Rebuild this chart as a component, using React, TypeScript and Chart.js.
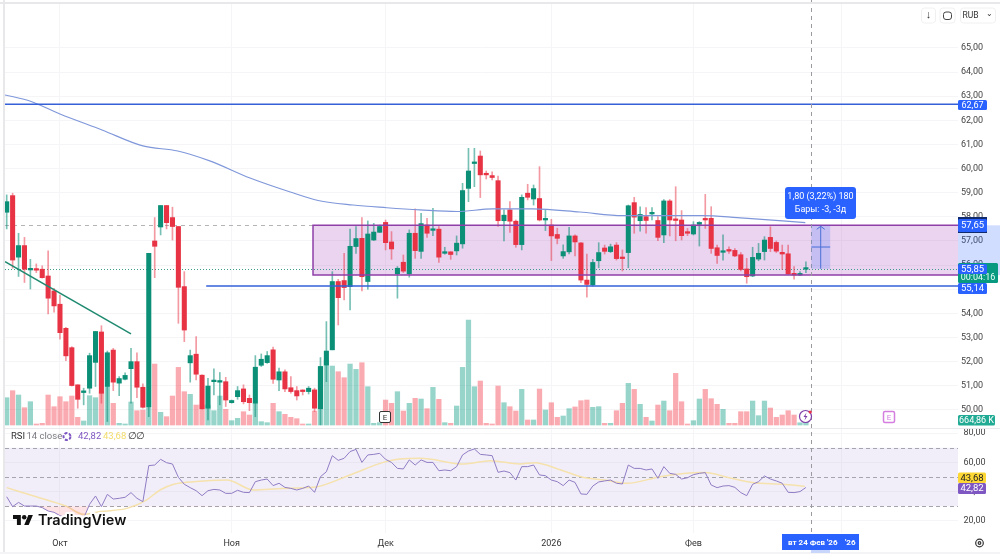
import React, { useEffect, useRef } from "react";
import { Chart, registerables } from "chart.js";

Chart.register(...registerables);

const opens = [58.19,58.88,56.33,56.81,55.80,55.83,55.83,55.55,54.93,54.38,
53.38,52.58,51.04,50.72,50.90,51.97,53.23,50.97,52.48,51.11,
51.27,51.71,52.00,50.94,50.11,57.00,57.58,58.47,57.97,57.60,
55.11,51.95,52.31,51.44,50.07,51.17,51.15,51.17,50.30,50.55,
50.87,50.48,50.28,51.85,51.96,52.49,51.24,51.58,50.92,50.80,
50.80,50.76,50.83,50.05,51.86,52.49,55.32,55.36,55.11,56.77,
57.11,55.32,57.04,57.36,57.77,56.96,55.64,56.12,55.64,57.32,
56.57,57.66,57.44,57.49,56.49,56.55,56.59,56.88,59.18,60.21,
60.52,59.76,59.71,59.50,57.84,58.29,57.82,56.85,58.98,58.74,
58.76,57.87,57.66,57.27,56.38,56.55,57.21,56.92,55.38,55.18,
56.18,56.71,56.56,56.83,56.31,56.52,58.59,57.84,58.01,58.12,
57.85,57.25,58.66,57.90,57.87,57.37,57.29,57.69,57.90,57.94,
56.72,56.53,56.63,56.61,56.43,55.84,55.55,56.25,56.56,57.15,
56.94,56.53,56.47,55.66,55.59,55.83];

const closes = [58.63,56.21,56.81,55.83,55.83,55.79,55.48,54.63,54.31,53.20,
52.24,51.01,50.44,50.79,52.25,53.25,50.69,52.37,51.15,51.30,
51.43,52.00,50.94,50.11,56.49,56.78,58.47,57.76,57.60,55.08,
53.31,52.25,51.48,50.05,50.99,51.22,51.17,50.41,50.39,50.80,
50.34,50.30,51.77,52.10,52.25,51.27,51.58,50.87,50.76,50.58,
50.76,50.90,50.07,51.80,52.44,55.32,54.65,55.07,56.78,57.10,
55.52,57.29,57.37,57.60,56.93,56.67,55.87,55.75,57.32,56.60,
57.72,57.32,57.49,56.33,56.55,56.44,56.91,59.09,59.90,60.26,
59.74,59.74,59.63,57.84,58.07,57.82,56.85,58.81,58.81,59.17,
57.87,57.91,57.21,57.11,56.56,57.21,56.96,55.38,55.20,56.11,
56.52,56.57,56.76,56.27,56.27,58.46,57.99,58.10,57.85,58.17,
57.15,58.66,57.87,57.85,57.22,57.32,57.66,57.77,57.87,56.69,
56.40,56.58,56.58,56.38,55.82,55.52,56.32,56.49,57.04,56.69,
56.58,56.46,55.63,55.59,55.62,55.87];

const highs = [58.91,58.98,57.32,57.15,56.24,56.05,55.97,56.59,55.04,54.76,
53.42,52.62,51.04,50.90,52.35,53.25,53.49,52.44,52.55,51.38,
51.54,52.55,52.37,51.08,56.49,57.97,58.47,58.47,58.40,57.60,
55.73,52.48,53.04,51.45,51.31,51.70,51.55,51.35,50.41,50.97,
51.04,50.62,52.25,52.32,52.42,52.60,51.73,51.66,51.38,50.97,
50.83,50.97,50.90,52.17,53.66,55.73,55.41,56.49,57.49,57.60,
57.97,57.83,57.73,57.66,57.87,57.39,55.94,56.42,57.46,58.33,
58.15,57.94,58.35,57.60,56.74,56.56,57.21,59.39,60.84,60.84,
60.73,59.90,59.87,59.69,58.29,58.63,57.87,58.91,59.35,59.32,
60.08,58.29,57.90,57.53,56.84,57.57,57.25,56.93,56.46,56.24,
56.93,56.83,56.87,56.93,56.63,58.49,58.81,58.42,58.38,58.38,
58.01,58.72,58.72,59.25,58.26,57.52,57.80,57.80,58.93,58.42,
56.83,57.25,56.76,56.69,56.52,56.28,56.74,56.90,57.18,57.59,
57.00,56.83,56.83,55.94,55.73,56.14];

const lows = [57.50,55.87,55.53,55.28,55.01,55.69,55.46,53.98,54.05,52.93,
52.04,50.99,50.07,50.21,50.69,50.97,50.28,49.52,50.80,50.59,
51.24,50.28,50.51,50.07,49.72,55.48,57.25,57.50,57.04,53.59,
52.83,51.15,51.24,50.03,49.59,50.62,50.21,50.14,50.28,50.44,
50.25,49.97,49.72,51.80,51.93,51.10,50.80,50.76,50.69,50.41,
50.62,50.66,49.93,49.38,51.17,52.49,53.52,54.56,54.14,56.49,
54.93,55.00,57.02,57.35,56.63,56.24,54.63,55.69,55.50,56.28,
56.28,57.15,57.22,56.11,56.45,56.24,56.42,56.70,58.63,59.25,
58.80,59.57,59.53,57.60,57.00,57.35,56.74,56.63,58.70,58.49,
57.83,57.43,56.19,56.88,56.28,56.46,56.38,55.27,54.67,55.13,
55.89,56.46,56.52,56.21,55.76,55.89,57.32,57.41,57.32,57.87,
57.01,56.93,57.21,57.01,57.04,57.22,57.25,56.79,57.52,56.49,
56.07,56.21,56.49,56.35,55.76,55.25,55.52,56.18,56.21,56.56,
56.52,55.82,55.62,55.42,55.56,55.69];

// volume, thousands
const volumes = [3633,4563,3987,2304,3101,133,222,3987,2437,3766,
3101,3854,1019,532,3898,3633,4430,5006,2880,222,
133,3057,1905,1994,2215,8107,1683,1108,3854,7664,
4430,4076,2658,2658,2658,1905,3854,2082,576,886,
1772,1329,2880,443,310,2880,1772,1418,1019,842,
133,133,1861,7753,8639,7841,7088,6291,8107,7398,
8284,5095,222,310,3323,2880,4430,1861,2880,3544,
3455,2171,5006,3411,310,222,2525,7664,13955,5095,
5848,222,133,5183,2968,2437,1861,4740,665,665,
4784,1994,2968,1019,1196,2171,2400,3234,3323,2348,
2437,222,222,1905,2880,5538,4740,2747,1019,532,
2658,3190,1905,6867,3101,133,576,3455,4740,3500,
2747,2082,222,222,1772,1772,3190,1240,3190,2259,
1019,1329,1905,1329,300,665];

const rsi = [36.5,29.7,32.6,30.1,30.1,30.1,29.0,26.7,25.8,23.5,
22.1,20.5,20.5,21.7,31.3,37.0,29.7,38.1,34.9,35.4,
36.1,39.3,35.4,33.1,57.8,58.2,62.1,59.8,58.9,49.8,
45.0,42.7,40.6,37.2,40.6,41.5,41.1,38.8,38.8,40.9,
39.5,39.3,46.8,47.9,48.6,44.1,45.7,42.9,42.2,41.1,
42.2,43.8,39.5,50.2,53.6,64.6,61.4,62.8,67.4,68.9,
60.0,65.1,65.5,66.2,62.1,60.0,55.9,55.5,61.7,58.2,
61.7,60.0,60.0,54.3,54.8,54.3,57.1,65.1,67.8,69.2,
65.5,65.1,64.6,53.2,54.1,53.0,47.9,57.1,57.1,58.2,
51.4,50.9,47.9,46.8,44.1,47.9,46.3,38.4,38.1,43.8,
46.6,47.3,47.9,45.7,45.2,58.2,55.9,55.9,54.8,55.5,
49.1,57.1,52.5,51.8,48.6,49.5,51.6,52.5,53.0,44.5,
42.7,43.8,44.1,42.9,39.3,37.2,45.0,46.8,50.7,48.6,
47.3,45.7,39.5,39.3,40.0,42.82];

const rsiMaBars = [0,5,10,13,15.8,20.3,23.6,25.9,28.2,31.5,37.2,41.7,46.7,51.8,58,63.6,66.4,69.8,77.3,81.7,86.7,89.2,93.6,97.3,101,104.8,110.4,113.6,118,121.7,126,131,134.8];
const rsiMaValues = [42.7,36.5,30.1,24.4,26.3,28.5,34.2,41.1,45.0,46.8,47.9,41.1,42.2,42.9,51.4,60.0,62.3,62.8,58.9,61.2,58.9,59.8,54.8,49.8,47.9,45.7,50.2,52.0,53.0,49.8,46.3,45.0,43.68];

const smaBars = [-0.3,3.9,9,16.1,23,28.9,34.3,41.1,47.9,52.6,58.5,64.2,69.8,76,82.1,88.9,96.8,104.1,117.6,123.4,134.9];
const smaValues = [63.05,62.80,62.26,61.60,60.94,60.73,60.32,59.61,59.03,58.68,58.49,58.38,58.29,58.22,58.33,58.33,58.20,58.05,58.05,57.97,57.76];

const trendBars = [-0.28, 21];
const trendValues = [56.14, 53.15];
const upperLevelBars = [-1, 162];
const upperLevel = 62.67;
const lowerLevelBars = [33.7, 162];
const lowerLevel = 55.14;
const boxTop = 57.65;
const boxBottom = 55.59;
const boxStartBar = 51.74;
const lastPrice = 55.85;
const measureBars = [135.9, 139.1];
const measureTop = 57.65;
const measureBottom = 55.85;

const priceTicks = [50,51,52,53,54,55,56,57,58,59,60,61,62,63,64,65];
const rsiTicks = [20,40,60,80];
const monthBars = [9,38,64,92,116,141];
const monthLabels = ["Окт","Ноя","Дек","2026","Фев",""];

const FONT = "Roboto, 'Noto Sans', sans-serif";
const BLUE = "#2962ff";

function tag(ctx: any, x: number, y: number, w: number, h: number, bg: string, fg: string, text: string, size = 9.5) {
  ctx.fillStyle = bg;
  ctx.beginPath();
  ctx.roundRect(x, y, w, h, 1.5);
  ctx.fill();
  ctx.fillStyle = fg;
  ctx.font = `${size}px ${FONT}`;
  ctx.textAlign = "center";
  ctx.textBaseline = "middle";
  ctx.fillText(text, x + w / 2, y + h / 2 + 0.5);
}

function text(ctx: any, s: string, x: number, y: number, color: string, font: string, align = "left") {
  ctx.fillStyle = color;
  ctx.font = font;
  ctx.textAlign = align;
  ctx.textBaseline = "middle";
  ctx.fillText(s, x, y);
}

const noPadding = (s: any) => {
  s.paddingTop = 0;
  s.paddingBottom = 0;
  s.paddingLeft = 0;
  s.paddingRight = 0;
};

const backdrop = {
  id: "backdrop",
  beforeDatasetsDraw(chart: any) {
    const { ctx, chartArea: a, scales } = chart;
    const yR = scales.yRsi;
    const y = scales.y;
    const x = scales.x;
    ctx.save();
    // RSI band
    ctx.fillStyle = "rgba(126,87,194,0.1)";
    ctx.fillRect(a.left, yR.getPixelForValue(70), a.right - a.left, yR.getPixelForValue(30) - yR.getPixelForValue(70));
    ctx.strokeStyle = "#a5a5ad";
    ctx.lineWidth = 1;
    ctx.setLineDash([4, 3]);
    for (const v of [70, 50, 30]) {
      const p = Math.round(yR.getPixelForValue(v)) + 0.5;
      ctx.beginPath();
      ctx.moveTo(a.left, p);
      ctx.lineTo(a.right, p);
      ctx.stroke();
    }
    ctx.setLineDash([]);
    // pane separator
    ctx.strokeStyle = "#e9e9ee";
    ctx.beginPath();
    ctx.moveTo(a.left, 428.5);
    ctx.lineTo(1000, 428.5);
    ctx.stroke();
    // box fill
    const bx = x.getPixelForValue(boxStartBar);
    ctx.fillStyle = "rgba(156,39,176,0.2)";
    ctx.fillRect(bx, y.getPixelForValue(boxTop), a.right - bx, y.getPixelForValue(boxBottom) - y.getPixelForValue(boxTop));
    // dashed high line
    ctx.strokeStyle = "#b4b4b8";
    ctx.setLineDash([4, 4]);
    ctx.beginPath();
    ctx.moveTo(a.left, Math.round(y.getPixelForValue(boxTop)) + 0.5);
    ctx.lineTo(a.right, Math.round(y.getPixelForValue(boxTop)) + 0.5);
    ctx.stroke();
    // last price dotted
    ctx.strokeStyle = "#3f9e8c";
    ctx.setLineDash([1, 2]);
    ctx.beginPath();
    ctx.moveTo(a.left, Math.round(y.getPixelForValue(lastPrice)) + 0.5);
    ctx.lineTo(a.right, Math.round(y.getPixelForValue(lastPrice)) + 0.5);
    ctx.stroke();
    ctx.restore();
  },
  afterDatasetsDraw(chart: any) {
    const { ctx, chartArea: a, scales } = chart;
    const y = scales.y;
    const x = scales.x;
    ctx.save();
    // box border
    const bx = x.getPixelForValue(boxStartBar);
    const t = y.getPixelForValue(boxTop);
    const b = y.getPixelForValue(boxBottom);
    ctx.strokeStyle = "#8e3fa8";
    ctx.lineWidth = 1.5;
    ctx.beginPath();
    ctx.moveTo(a.right, t);
    ctx.lineTo(bx, t);
    ctx.lineTo(bx, b);
    ctx.lineTo(a.right, b);
    ctx.stroke();
    // crosshair
    ctx.strokeStyle = "#9a9aa0";
    ctx.lineWidth = 1;
    ctx.setLineDash([4, 4]);
    ctx.beginPath();
    ctx.moveTo(811.5, 0);
    ctx.lineTo(811.5, 534);
    ctx.stroke();
    ctx.setLineDash([]);
    // measure tool
    const mx0 = x.getPixelForValue(measureBars[0]);
    const mx1 = x.getPixelForValue(measureBars[1]);
    const mt = y.getPixelForValue(measureTop);
    const mb = y.getPixelForValue(measureBottom);
    ctx.fillStyle = "rgba(41,98,255,0.2)";
    ctx.fillRect(mx0, mt, mx1 - mx0, mb - mt);
    ctx.strokeStyle = "#4a6fd6";
    const mc = (mx0 + mx1) / 2;
    ctx.beginPath();
    ctx.moveTo(mc, mb);
    ctx.lineTo(mc, mt + 1);
    ctx.moveTo(mc - 4, mt + 4);
    ctx.lineTo(mc, mt + 1);
    ctx.lineTo(mc + 4, mt + 4);
    ctx.moveTo(mx0, (mt + mb) / 2);
    ctx.lineTo(mx1, (mt + mb) / 2);
    ctx.stroke();
    // price range on axis
    ctx.fillStyle = "rgba(41,98,255,0.22)";
    ctx.fillRect(a.right, t, 1000 - a.right, b - t);
    ctx.restore();
  },
  afterDraw(chart: any) {
    const { ctx } = chart;
    ctx.save();
    // frame strips
    ctx.fillStyle = "#e8e8ea";
    ctx.fillRect(3, 0, 2, 554);
    ctx.fillRect(0, 2, 1000, 2);
    ctx.fillStyle = "#f4f4f6";
    ctx.fillRect(0, 552, 1000, 2);
    // measure label
    ctx.fillStyle = BLUE;
    ctx.beginPath();
    ctx.roundRect(785, 187, 71, 32, 3);
    ctx.fill();
    text(ctx, "1,80 (3,22%) 180", 820.5, 197, "#fff", `9px ${FONT}`, "center");
    text(ctx, "Бары: -3, -3д", 820.5, 210, "#fff", `9px ${FONT}`, "center");
    // axis tags
    tag(ctx, 958, 100, 29, 10, BLUE, "#fff", "62,67", 9);
    ctx.fillStyle = "#102a6b";
    ctx.fillRect(958, 217, 29, 16);
    tag(ctx, 958, 219, 29, 13, BLUE, "#fff", "57,65", 9.5);
    tag(ctx, 958, 263, 40, 20, "#089981", "#fff", "", 9);
    text(ctx, "00:04:16", 978, 278, "#eafff8", `9px ${FONT}`, "center");
    tag(ctx, 958, 264, 29, 10, BLUE, "#fff", "55,85", 9.5);
    tag(ctx, 958, 283, 29, 11, BLUE, "#fff", "55,14", 9.5);
    tag(ctx, 958, 415, 37, 10.5, "#22ab94", "#fff", "664,86 K", 9);
    tag(ctx, 958, 472.5, 28, 10.5, "#fdd835", "#222", "43,68", 9.5);
    tag(ctx, 958, 483, 28, 11, "#7e57c2", "#fff", "42,82", 9.5);
    // toolbar
    ctx.strokeStyle = "#f0f0f2";
    ctx.lineWidth = 1;
    for (const [bx, bw] of [[921, 14], [939.5, 15], [960, 35]]) {
      ctx.beginPath();
      ctx.roundRect(bx + 0.5, 8, bw, 15, 3);
      ctx.stroke();
    }
    text(ctx, "↓", 928.5, 15.5, "#333", `bold 11px ${FONT}`, "center");
    ctx.strokeStyle = "#444";
    ctx.beginPath();
    ctx.roundRect(943.5, 12, 8, 7.5, 2.5);
    ctx.stroke();
    text(ctx, "RUB", 962.5, 15.5, "#333", `8.5px ${FONT}`);
    text(ctx, "⌄", 993, 14, "#333", `8px ${FONT}`, "right");
    // RSI header
    text(ctx, "RSI", 11, 436.5, "#333", `9.5px ${FONT}`);
    text(ctx, "14 close", 26.5, 436.5, "#7a7a80", `9.5px ${FONT}`);
    ctx.strokeStyle = "#7e57c2";
    ctx.lineWidth = 2;
    ctx.setLineDash([3, 1.5]);
    ctx.beginPath();
    ctx.arc(67, 436.5, 3.5, 0, Math.PI * 2);
    ctx.stroke();
    ctx.setLineDash([]);
    text(ctx, "42,82", 78, 436.5, "#7e57c2", `9.5px ${FONT}`);
    text(ctx, "43,68", 103, 436.5, "#f2dc6b", `9.5px ${FONT}`);
    text(ctx, "∅", 128, 436.5, "#333", `9.5px ${FONT}`);
    text(ctx, "∅", 136, 436.5, "#333", `9.5px ${FONT}`);
    // E badges
    ctx.lineWidth = 1;
    ctx.fillStyle = "#fff";
    ctx.strokeStyle = "#333";
    ctx.beginPath();
    ctx.roundRect(379.5, 411.5, 11, 11, 1.5);
    ctx.fill();
    ctx.stroke();
    text(ctx, "E", 385, 417.5, "#333", `8px ${FONT}`, "center");
    ctx.fillStyle = "#fff";
    ctx.strokeStyle = "#d47fe0";
    ctx.lineWidth = 1.5;
    ctx.beginPath();
    ctx.roundRect(883.5, 411.5, 11, 11, 1.5);
    ctx.fill();
    ctx.stroke();
    text(ctx, "E", 889, 417.5, "#d47fe0", `8px ${FONT}`, "center");
    // lightning
    ctx.fillStyle = "#fff";
    ctx.strokeStyle = "#7e3fa8";
    ctx.lineWidth = 1.2;
    ctx.beginPath();
    ctx.arc(805.5, 416.5, 6, 0, Math.PI * 2);
    ctx.fill();
    ctx.stroke();
    ctx.fillStyle = "#7e3fa8";
    ctx.beginPath();
    ctx.moveTo(806.5, 412.5);
    ctx.lineTo(803.5, 417);
    ctx.lineTo(805.5, 417);
    ctx.lineTo(804.5, 420.5);
    ctx.lineTo(807.5, 416);
    ctx.lineTo(805.5, 416);
    ctx.closePath();
    ctx.fill();
    ctx.fillStyle = "#e8334a";
    ctx.beginPath();
    ctx.arc(810.2, 412, 1.6, 0, Math.PI * 2);
    ctx.fill();
    // date box
    ctx.fillStyle = "#c8d6fb";
    ctx.fillRect(811, 550, 19, 3);
    ctx.fillStyle = BLUE;
    ctx.fillRect(782, 534, 77, 16);
    text(ctx, "вт 24 Фев '26", 788, 543, "#fff", `bold 8px ${FONT}`);
    text(ctx, "'26", 845, 543, "#fff", `bold 8px ${FONT}`);
    // gear
    ctx.strokeStyle = "#333";
    ctx.lineWidth = 1.2;
    ctx.beginPath();
    ctx.arc(979.5, 543, 3.8, 0, Math.PI * 2);
    ctx.stroke();
    ctx.beginPath();
    ctx.arc(979.5, 543, 1.3, 0, Math.PI * 2);
    ctx.stroke();
    // TradingView logo
    const s = 0.56;
    ctx.save();
    ctx.translate(13, 512.8);
    ctx.scale(s, s);
    ctx.fillStyle = "#111";
    ctx.fill(new Path2D("M14 22H7V11H0V4h14v18zM28 22h-8l7.5-18h8L28 22z"));
    ctx.beginPath();
    ctx.arc(20, 8, 4, 0, Math.PI * 2);
    ctx.fill();
    ctx.restore();
    ctx.font = `600 14.5px Inter, ${FONT}`;
    ctx.textAlign = "left";
    ctx.textBaseline = "middle";
    ctx.lineWidth = 4;
    ctx.strokeStyle = "#fff";
    ctx.lineJoin = "round";
    ctx.strokeText("TradingView", 38, 520.5);
    ctx.fillStyle = "#111";
    ctx.fillText("TradingView", 38, 520.5);
    ctx.restore();
  },
};

export default function App() {
  const ref = useRef<HTMLCanvasElement | null>(null);
  useEffect(() => {
    const bars = opens.map((_, i) => i);
    const up = (i: number) => closes[i] >= opens[i];
    const chart = new Chart(ref.current as HTMLCanvasElement, {
      type: "bar",
      data: {
        datasets: [
          {
            label: "Volume",
            yAxisID: "yVol",
            order: 8,
            barThickness: 4.6,
            data: bars.map((i) => ({ x: i, y: volumes[i] })),
            backgroundColor: bars.map((i) => (up(i) ? "rgba(8,153,129,0.42)" : "rgba(242,54,69,0.42)")),
          },
          {
            label: "Wicks",
            yAxisID: "y",
            order: 5,
            barThickness: 1,
            data: bars.map((i) => ({ x: i, y: [lows[i], highs[i]] })),
            backgroundColor: bars.map((i) => (up(i) ? "rgba(8,140,118,0.55)" : "rgba(232,51,69,0.5)")),
          },
          {
            label: "Candles",
            yAxisID: "y",
            order: 4,
            barThickness: 4.4,
            minBarLength: 1.6,
            data: bars.map((i) => ({ x: i, y: [Math.min(opens[i], closes[i]), Math.max(opens[i], closes[i])] })),
            backgroundColor: bars.map((i) => (up(i) ? "#0b8f77" : "#e83345")),
          },
          {
            type: "line",
            label: "SMA",
            yAxisID: "y",
            order: 3,
            data: smaBars.map((b, i) => ({ x: b, y: smaValues[i] })),
            borderColor: "#7f97da",
            borderWidth: 1.1,
            pointRadius: 0,
            cubicInterpolationMode: "monotone",
          },
          {
            type: "line",
            label: "Trend",
            yAxisID: "y",
            order: 2,
            data: trendBars.map((b, i) => ({ x: b, y: trendValues[i] })),
            borderColor: "#1f8a70",
            borderWidth: 1.5,
            pointRadius: 0,
          },
          {
            type: "line",
            label: "Upper",
            yAxisID: "y",
            order: 2,
            data: upperLevelBars.map((b) => ({ x: b, y: upperLevel })),
            borderColor: "#3560d8",
            borderWidth: 1.5,
            pointRadius: 0,
          },
          {
            type: "line",
            label: "Lower",
            yAxisID: "y",
            order: 2,
            data: lowerLevelBars.map((b) => ({ x: b, y: lowerLevel })),
            borderColor: "#3560d8",
            borderWidth: 1.5,
            pointRadius: 0,
          },
          {
            type: "line",
            label: "RSI MA",
            yAxisID: "yRsi",
            order: 2,
            data: rsiMaBars.map((b, i) => ({ x: b, y: rsiMaValues[i] })),
            borderColor: "#f5e2ad",
            borderWidth: 1.5,
            pointRadius: 0,
            cubicInterpolationMode: "monotone",
          },
          {
            type: "line",
            label: "RSI",
            yAxisID: "yRsi",
            order: 1,
            data: bars.map((i) => ({ x: i, y: rsi[i] })),
            borderColor: "#8f7cc4",
            borderWidth: 1,
            pointRadius: 0,
            tension: 0,
            fill: { target: { value: 30 }, above: "rgba(0,0,0,0)", below: "rgba(242,54,69,0.14)" },
          },
        ],
      } as any,
      options: {
        animation: false,
        responsive: false,
        devicePixelRatio: 1,
        layout: { padding: { left: 5, top: 4, right: 0, bottom: 0 } },
        datasets: { bar: { grouped: false } },
        plugins: { legend: { display: false }, tooltip: { enabled: false } },
        scales: {
          x: {
            type: "linear",
            offset: false,
            min: -0.287,
            max: 160.69,
            afterBuildTicks: (s: any) => {
              s.ticks = monthBars.map((value) => ({ value }));
            },
            afterFit: (s: any) => {
              s.height = 21;
              noPadding(s);
            },
            grid: { color: "#f5f5f7", drawTicks: false, offset: false },
            border: { display: false },
            ticks: {
              autoSkip: false,
              maxRotation: 0,
              padding: 5,
              color: "#333",
              font: { family: FONT, size: 9 },
              callback: (v: any) => monthLabels[monthBars.indexOf(v)] ?? "",
            },
          },
          y: {
            position: "right",
            min: 44.9,
            max: 66.82,
            weight: 2,
            afterBuildTicks: (s: any) => {
              s.ticks = priceTicks.map((value) => ({ value }));
            },
            afterFit: (s: any) => {
              s.width = 0.5;
              noPadding(s);
            },
            grid: { color: "#f5f5f7", drawTicks: false },
            border: { display: false },
            ticks: {
              autoSkip: false,
              mirror: true,
              padding: 25,
              color: "#444",
              font: { family: FONT, size: 9 },
              callback: (v: any) => Number(v).toFixed(2).replace(".", ","),
            },
          },
          yRsi: {
            position: "right",
            min: 11.64,
            max: 373.97,
            weight: 3,
            afterBuildTicks: (s: any) => {
              s.ticks = rsiTicks.map((value) => ({ value }));
            },
            afterFit: (s: any) => {
              s.width = 41.5;
              noPadding(s);
            },
            grid: { color: "#f5f5f7", drawTicks: false },
            border: { display: false },
            ticks: {
              autoSkip: false,
              padding: 5,
              color: "#444",
              font: { family: FONT, size: 9 },
              callback: (v: any) => Number(v).toFixed(2).replace(".", ","),
            },
          },
          yVol: {
            display: false,
            position: "left",
            min: -14364,
            max: 55993,
          },
        },
      } as any,
      plugins: [backdrop],
    });
    return () => chart.destroy();
  }, []);
  return (
    <div style={{ position: "fixed", left: 0, top: 0, width: 1000, height: 554, background: "#fff" }}>
      <canvas ref={ref} width={1000} height={554} style={{ display: "block", width: 1000, height: 554 }} />
    </div>
  );
}
